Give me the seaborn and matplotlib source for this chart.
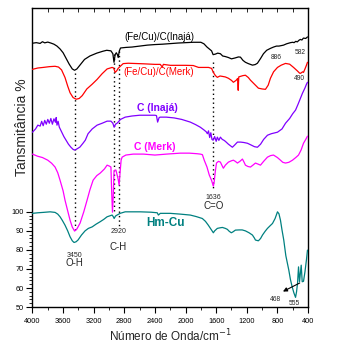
import numpy as np
import pandas as pd
import matplotlib
matplotlib.use("Agg")
import matplotlib.pyplot as plt
from matplotlib.ticker import MultipleLocator, FixedLocator
import seaborn as sns

# FTIR spectra (wavenumber in cm-1, transmittance in %, curves stacked with offsets)
wn_black = [
    4000, 3950, 3900, 3870, 3840, 3800, 3760, 3720, 3680, 3640,
    3600, 3560, 3520, 3480, 3450, 3420, 3380, 3320, 3250, 3160,
    3080, 3030, 2975, 2950, 2935, 2920, 2905, 2890, 2880, 2865,
    2850, 2780, 2700, 2600, 2500, 2400, 2300, 2200, 2100, 2000,
    1900, 1800, 1760, 1720, 1690, 1660, 1640, 1610, 1580, 1545,
    1515, 1480, 1440, 1400, 1350, 1310, 1283, 1250, 1218, 1180,
    1126, 1090, 1061, 1020, 982, 940, 891, 850, 812, 780,
    720, 680, 629, 600, 582, 560, 540, 520, 500, 480,
    460, 430, 407]
t_black = [
    188.5, 188.8, 188.4, 189.3, 188.7, 189.1, 188.6, 188.0, 187.0, 185.5,
    183.5, 180.5, 177.5, 175.0, 174.3, 175.0, 177.0, 180.0, 181.8, 183.3,
    184.3, 184.8, 184.5, 183.0, 178.5, 182.5, 183.5, 182.5, 181.0, 184.5,
    186.0, 186.3, 186.5, 187.0, 187.5, 187.8, 188.0, 188.3, 188.6, 188.8,
    189.0, 189.0, 188.2, 186.5, 185.5, 184.5, 182.5, 182.8, 183.3, 183.0,
    181.8, 181.5, 181.0, 180.3, 180.8, 181.3, 181.2, 179.5, 178.5, 177.8,
    177.0, 177.3, 178.0, 180.5, 183.0, 184.8, 185.8, 186.5, 187.0, 187.0,
    187.5, 188.2, 188.8, 189.0, 188.8, 189.5, 189.2, 190.0, 190.5, 190.2,
    191.2, 191.0, 191.8]

wn_red = [
    4000, 3930, 3860, 3780, 3705, 3660, 3620, 3575, 3540, 3509,
    3470, 3430, 3390, 3350, 3290, 3220, 3156, 3090, 3025, 2960,
    2940, 2920, 2900, 2881, 2850, 2815, 2750, 2684, 2550, 2400,
    2330, 2305, 2290, 2200, 2000, 1900, 1830, 1760, 1700, 1660,
    1637, 1610, 1585, 1550, 1520, 1480, 1440, 1400, 1375, 1340,
    1320, 1312, 1305, 1283, 1250, 1218, 1180, 1152, 1100, 1048,
    1000, 956, 920, 891, 850, 799, 750, 694, 640, 589,
    540, 510, 498, 470, 459, 440, 420, 407]
t_red = [
    174.8, 175.5, 175.8, 176.2, 176.4, 176.0, 174.5, 170.5, 166.0, 162.5,
    160.0, 159.1, 159.5, 161.0, 164.5, 167.0, 169.5, 172.5, 175.0, 175.8,
    175.5, 173.2, 174.0, 175.3, 176.5, 177.8, 178.0, 177.9, 177.7, 177.4,
    177.4, 176.0, 177.4, 176.9, 176.9, 176.8, 175.8, 175.8, 175.8, 175.3,
    173.2, 171.5, 170.6, 171.3, 171.1, 170.8, 170.1, 169.0, 168.0, 169.0,
    170.0, 163.8, 170.8, 171.1, 171.5, 171.7, 170.5, 169.1, 167.0, 164.9,
    164.5, 164.3, 166.5, 170.1, 173.5, 175.8, 177.0, 177.9, 177.5, 175.8,
    174.0, 172.8, 172.7, 173.5, 173.2, 175.0, 177.0, 178.5]

wn_purple = [
    4000, 3960, 3930, 3900, 3880, 3860, 3840, 3820, 3800, 3780,
    3760, 3740, 3720, 3700, 3690, 3680, 3665, 3650, 3620, 3590,
    3560, 3530, 3500, 3470, 3450, 3420, 3380, 3340, 3310, 3274,
    3220, 3156, 3090, 3025, 2975, 2950, 2933, 2915, 2895, 2881,
    2850, 2789, 2700, 2600, 2500, 2400, 2380, 2365, 2345, 2330,
    2250, 2150, 2050, 1938, 1870, 1807, 1760, 1730, 1715, 1700,
    1685, 1670, 1655, 1640, 1620, 1600, 1585, 1565, 1545, 1520,
    1500, 1480, 1440, 1388, 1360, 1322, 1280, 1240, 1192, 1140,
    1100, 1061, 1020, 980, 930, 880, 799, 740, 694, 640,
    600, 563, 530, 500, 472, 440, 420, 407]
t_purple = [
    141.8, 143.5, 145.5, 145.0, 147.5, 145.2, 148.0, 146.0, 148.5, 146.5,
    149.0, 146.0, 148.8, 147.0, 149.5, 145.5, 147.5, 144.5, 142.0, 139.5,
    137.5, 135.5, 134.0, 132.8, 132.4, 133.0, 134.0, 136.0, 137.6, 141.0,
    143.5, 145.5, 146.5, 147.6, 147.6, 146.5, 144.4, 146.0, 146.5, 147.1,
    148.5, 149.7, 150.3, 150.7, 150.7, 150.7, 150.5, 147.1, 149.5, 149.7,
    149.7, 149.3, 148.5, 147.1, 145.8, 144.4, 143.0, 142.0, 141.0, 142.5,
    139.0, 141.5, 138.0, 137.6, 139.5, 137.0, 139.2, 137.5, 139.2, 138.0,
    137.6, 137.0, 135.5, 133.9, 135.0, 136.6, 136.6, 136.4, 136.0, 135.0,
    134.2, 133.9, 135.5, 138.0, 140.2, 141.0, 141.8, 143.5, 146.5, 149.0,
    151.5, 153.4, 156.5, 159.5, 162.3, 165.0, 167.0, 168.0]

wn_magenta = [
    4000, 3934, 3870, 3800, 3750, 3705, 3670, 3640, 3600, 3575,
    3540, 3509, 3480, 3450, 3420, 3378, 3330, 3287, 3250, 3208,
    3160, 3116, 3060, 3025, 2995, 2975, 2965, 2955, 2945, 2935,
    2925, 2910, 2895, 2880, 2868, 2855, 2842, 2829, 2780, 2684,
    2550, 2400, 2250, 2069, 1950, 1850, 1807, 1780, 1755, 1720,
    1690, 1660, 1645, 1636, 1625, 1612, 1596, 1570, 1545, 1520,
    1506, 1480, 1440, 1400, 1375, 1350, 1322, 1290, 1257, 1235,
    1218, 1185, 1152, 1120, 1087, 1050, 1021, 980, 930, 890,
    851, 800, 760, 730, 694, 650, 603, 560, 524, 490,
    459, 430, 407]
t_magenta = [
    130.3, 129.2, 128.5, 127.1, 125.5, 123.5, 120.5, 116.6, 111.0, 106.1,
    100.5, 95.6, 92.0, 89.9, 91.0, 94.1, 100.0, 106.1, 111.5, 116.6,
    119.0, 120.3, 122.5, 124.5, 124.0, 123.5, 110.0, 99.8, 108.0, 121.0,
    121.9, 121.9, 119.5, 117.0, 114.0, 121.0, 127.1, 128.7, 129.8, 130.3,
    130.3, 129.8, 130.3, 130.8, 130.8, 130.5, 130.3, 130.0, 127.0, 123.5,
    119.3, 116.5, 114.5, 113.5, 116.0, 121.0, 125.6, 126.5, 126.1, 124.0,
    122.9, 124.5, 126.1, 126.8, 127.1, 126.5, 125.6, 126.5, 127.7, 126.0,
    124.5, 123.8, 123.5, 124.5, 125.6, 125.0, 124.5, 126.5, 128.7, 129.5,
    129.8, 128.5, 127.1, 126.0, 125.6, 126.0, 127.1, 128.5, 129.8, 132.5,
    136.0, 138.0, 139.7]

wn_teal = [
    4000, 3930, 3860, 3770, 3705, 3670, 3640, 3610, 3575, 3540,
    3509, 3480, 3457, 3430, 3405, 3360, 3313, 3270, 3220, 3170,
    3116, 3070, 3025, 2960, 2945, 2933, 2915, 2895, 2855, 2789,
    2700, 2592, 2450, 2370, 2355, 2330, 2200, 2070, 1938, 1860,
    1781, 1740, 1703, 1670, 1650, 1637, 1620, 1585, 1550, 1519,
    1480, 1454, 1430, 1402, 1380, 1349, 1300, 1260, 1218, 1170,
    1126, 1100, 1087, 1060, 1048, 1020, 995, 960, 930, 900,
    864, 830, 799, 780, 760, 740, 717, 690, 651, 630,
    607, 585, 563, 550, 537, 524, 511, 489, 476, 459,
    440, 420, 407]
t_teal = [
    99.2, 99.5, 99.7, 100.0, 99.7, 98.8, 97.4, 95.5, 93.0, 90.0,
    86.9, 84.8, 83.9, 84.3, 85.2, 87.8, 90.0, 91.3, 92.1, 93.5,
    94.8, 96.0, 97.4, 98.3, 97.5, 96.5, 97.8, 98.3, 99.2, 100.0,
    100.0, 100.0, 99.8, 99.5, 98.3, 99.2, 99.2, 98.8, 98.3, 97.5,
    96.5, 95.0, 93.0, 91.0, 89.8, 89.0, 90.0, 91.3, 91.6, 91.8,
    91.3, 90.8, 89.8, 89.0, 89.5, 90.4, 90.5, 90.5, 90.0, 89.0,
    87.8, 86.2, 85.2, 84.9, 84.8, 86.0, 87.8, 89.8, 91.3, 92.5,
    93.9, 96.5, 100.0, 99.0, 95.6, 90.5, 85.2, 77.0, 69.4, 64.5,
    60.6, 57.5, 55.1, 58.0, 62.5, 71.1, 63.3, 72.0, 63.3, 63.5,
    68.5, 75.0, 79.9]

x_ticks = [4000, 3600, 3200, 2800, 2400, 2000, 1600, 1200, 800, 400]
y_ticks = [50, 60, 70, 80, 90, 100]

sns.set_theme(style="ticks")
plt.rcParams["font.family"] = ["Liberation Sans", "DejaVu Sans"]

fig = plt.figure(figsize=(3.37, 3.55), dpi=100)
ax = fig.add_axes([0.0964, 0.135, 0.8176, 0.8425])

series = [
    (wn_black, t_black, "black"),
    (wn_red, t_red, "#ff0000"),
    (wn_purple, t_purple, "#8000ff"),
    (wn_magenta, t_magenta, "#ff00ff"),
    (wn_teal, t_teal, "#008080"),
]
for wn, tr, col in series:
    df = pd.DataFrame({"wn": wn, "T": tr})
    sns.lineplot(data=df, x="wn", y="T", ax=ax, color=col, lw=0.9,
                 estimator=None, sort=False, zorder=3)

# band markers
dot = dict(color="black", lw=1.0, ls=(0, (1, 2.2)), zorder=2)
ax.plot([3450, 3450], [173.0, 90.5], **dot)
ax.plot([2933, 2933], [183.0, 99.0], **dot)
ax.plot([2868, 2868], [184.5, 92.0], **dot)
ax.plot([1641, 1641], [178.5, 111.5], **dot)

ax.set_xlim(4000, 400)
ax.set_ylim(50, 207)

ax.set_xticks(x_ticks)
ax.set_xticklabels([str(v) for v in x_ticks])
ax.xaxis.set_minor_locator(MultipleLocator(200))
ax.set_yticks(y_ticks)
ax.set_yticklabels([str(v) for v in y_ticks])
ax.yaxis.set_minor_locator(FixedLocator(np.arange(50, 101, 2)))

ax.tick_params(axis="both", which="major", direction="out", length=4,
               width=0.8, labelsize=5.3, color="black", labelcolor="black",
               top=False, right=False)
ax.tick_params(axis="x", which="major", pad=4)
ax.tick_params(axis="y", which="major", pad=2)
ax.tick_params(axis="both", which="minor", direction="out", length=2.2,
               width=0.7, top=False, right=False)

top = ax.secondary_xaxis("top")
top.set_xticks(np.arange(4000, 399, -200))
top.set_xticklabels([])
top.tick_params(direction="in", length=3, width=0.7)
top.spines["top"].set_visible(False)

for s in ax.spines.values():
    s.set_linewidth(1.0)
    s.set_color("black")

ax.set_xlabel("Número de Onda/cm$^{-1}$", fontsize=8.5, labelpad=1.5)
ax.set_ylabel("Tansmitância %", fontsize=10)
ax.yaxis.set_label_coords(-0.012, 0.60)

# curve names
ax.text(2802, 191.7, "(Fe/Cu)/C(Inajá)", fontsize=7, color="black", va="center")
ax.text(2815, 173.3, "(Fe/Cu)/C(Merk)", fontsize=7, color="#ff0000", va="center")
ax.text(2632, 154.4, "C (Inajá)", fontsize=7.5, color="#8000ff",
        fontweight="bold", va="center")
ax.text(2671, 134.0, "C (Merk)", fontsize=7.5, color="#ff00ff",
        fontweight="bold", va="center")
ax.text(2514, 94.1, "Hm-Cu", fontsize=8.5, color="#008080",
        fontweight="bold", va="center")

# band assignments
ax.text(3457, 77.3, "3450", fontsize=5, ha="center", va="center")
ax.text(3457, 73.1, "O-H", fontsize=7, ha="center", va="center")
ax.text(2881, 89.9, "2920", fontsize=5, ha="center", va="center")
ax.text(2881, 81.5, "C-H", fontsize=7, ha="center", va="center")
ax.text(1637, 107.7, "1636", fontsize=5, ha="center", va="center")
ax.text(1637, 103.0, "C=O", fontsize=7, ha="center", va="center")
ax.text(812, 181.2, "886", fontsize=4.8, ha="center", va="center")
ax.text(498, 183.8, "582", fontsize=4.8, ha="center", va="center")
ax.text(511, 170.1, "490", fontsize=4.8, ha="center", va="center")
ax.text(825, 54.2, "468", fontsize=4.8, ha="center", va="center")
ax.text(577, 52.1, "555", fontsize=4.8, ha="center", va="center")
ax.annotate("", xy=(760, 57.5), xytext=(476, 63.3),
            arrowprops=dict(arrowstyle="-|>", color="black", lw=0.8,
                            mutation_scale=6))

fig.savefig("out.png", dpi=100)
